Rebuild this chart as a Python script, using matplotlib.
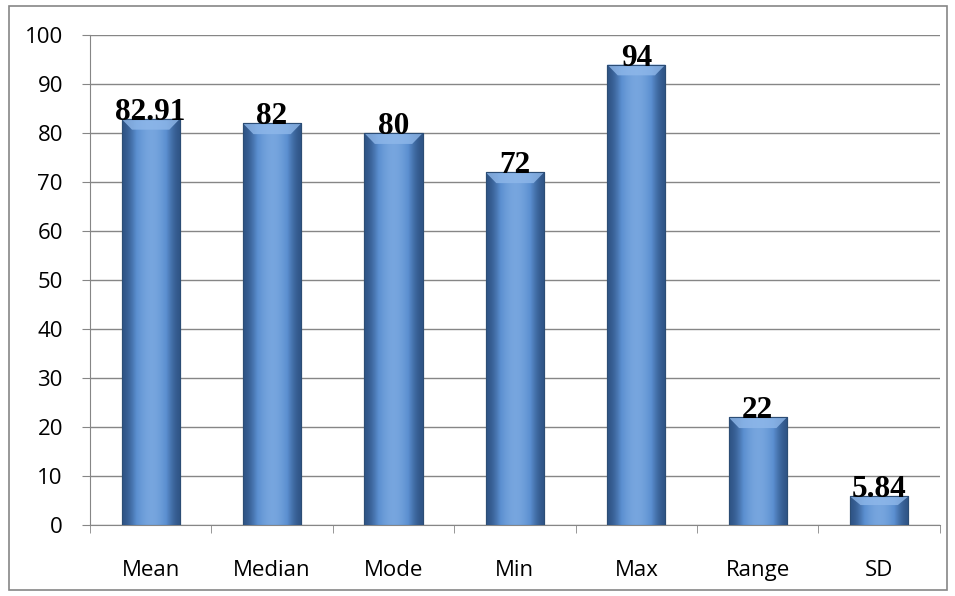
import numpy as np
import matplotlib.pyplot as plt
from matplotlib.patches import Rectangle
from matplotlib.colors import LinearSegmentedColormap

categories = ['Mean', 'Median', 'Mode', 'Min', 'Max', 'Range', 'SD']
values = [82.91, 82, 80, 72, 94, 22, 5.84]
labels = ['82.91', '82', '80', '72', '94', '22', '5.84']

fig = plt.figure(figsize=(9.55, 5.96), dpi=100)
ax = fig.add_axes([0.0942, 0.119, 0.890, 0.822])

# outer chart border
fig.patches.append(Rectangle((9 / 955, 6 / 596), 938 / 955, 584 / 596,
                             transform=fig.transFigure, fill=False,
                             edgecolor='#868686', linewidth=1.2))

x = np.arange(len(categories))
width = 0.48
bars = ax.bar(x, values, width, color='#4F81BD', edgecolor='#2c4d75',
              linewidth=0.8, zorder=2)

# beveled look: darker sides, lighter middle
grad = np.array([[0.0, 0.35, 0.75, 0.9, 0.75, 0.35, 0.0]])
cmap = LinearSegmentedColormap.from_list('bev', ['#2f5486', '#5b8fd0', '#7aa8e0'])
for b in bars:
    x0, w, h = b.get_x(), b.get_width(), b.get_height()
    im = ax.imshow(grad, cmap=cmap, aspect='auto', interpolation='bicubic',
                   extent=(x0, x0 + w, 0, h), zorder=3)
    im.set_clip_path(b)
    # light top facet
    cap = min(2.2, h * 0.3)
    ax.fill([x0, x0 + w, x0 + w * 0.82, x0 + w * 0.18],
            [h, h, h - cap, h - cap], color='#8fb8ea', alpha=0.8,
            zorder=4, linewidth=0)
    ax.add_patch(Rectangle((x0, 0), w, h, fill=False, edgecolor='#2c4d75',
                           linewidth=0.8, zorder=5))

for xi, v, lab in zip(x, values, labels):
    ax.text(xi, v - 0.2, lab, ha='center', va='baseline', fontsize=22.5,
            fontweight='bold', family='Liberation Serif', zorder=6)

ax.set_xlim(-0.5, len(categories) - 0.5)
ax.set_ylim(0, 100)
ax.set_yticks(np.arange(0, 101, 10))
ax.set_xticks(x)
ax.set_xticklabels(categories)
ax.set_xticks(np.arange(-0.5, len(categories), 1), minor=True)
ax.tick_params(axis='x', which='major', length=0, pad=25)
ax.tick_params(axis='x', which='minor', length=6, color='#868686', direction='out')
ax.tick_params(axis='y', length=6, color='#868686', pad=13.5)
for lab in ax.get_xticklabels() + ax.get_yticklabels():
    lab.set_family('Open Sans')
    lab.set_fontsize(16)

ax.grid(axis='y', color='#868686', linewidth=1, zorder=0)
ax.set_axisbelow(True)
for side in ['top', 'right']:
    ax.spines[side].set_visible(False)
ax.spines['left'].set_color('#868686')
ax.spines['bottom'].set_color('#868686')

plt.savefig('out.png', dpi=100)
plt.close()
